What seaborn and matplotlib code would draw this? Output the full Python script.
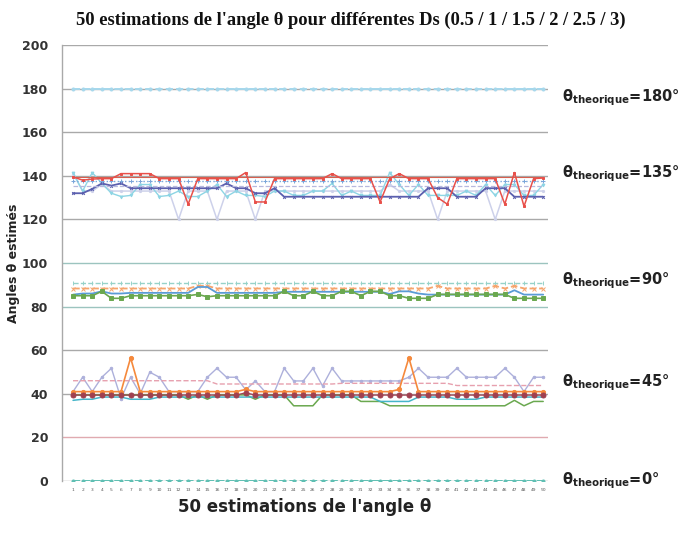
import numpy as np
import pandas as pd
import matplotlib
matplotlib.use("Agg")
import matplotlib.pyplot as plt
import seaborn as sns

# ---------------- data ----------------
idx = list(range(1, 51))

# theta = 180
s180 = [180] * 50

# theta = 135 group
red135 = [139.5, 138, 138.5, 138.7, 138.7, 141, 141, 141, 141, 138.7,
          138.7, 138.7, 127, 138.7, 138.7, 138.7, 138.7, 138.7, 141.5, 128,
          128, 138.7, 138.7, 138.7, 138.7, 138.7, 138.7, 141, 138.7, 138.7,
          138.7, 138.7, 128, 138.7, 141, 138.7, 138.7, 138.7, 130, 127,
          138.7, 138.7, 138.7, 138.7, 138.7, 127, 141.5, 126, 138.7, 139]
navy135 = [132, 132, 134, 136.5, 135.5, 136.5, 134.3, 134.3, 134.3, 134.3,
           134.3, 134.3, 134.3, 134.3, 134.3, 134.3, 136.5, 134.3, 134.3, 132,
           132, 134.3, 130.4, 130.4, 130.4, 130.4, 130.4, 130.4, 130.4, 130.4,
           130.4, 130.4, 130.4, 130.4, 130.4, 130.4, 130.4, 134.3, 134.3, 134.3,
           130.4, 130.4, 130.4, 134.3, 134.3, 134.3, 130.4, 130.4, 130.4, 130.4]
cyan135 = [141.5, 133, 141.5, 136.5, 132, 130.5, 131, 136, 136, 130.5,
           131, 133, 130.5, 130.5, 133, 136, 130.5, 133, 131, 131,
           130.5, 133, 133, 131, 131, 133, 133, 136.5, 131, 133,
           131, 131, 131, 141.5, 136, 131, 136, 131, 131, 131,
           131, 133, 131, 136, 131, 136, 136, 131, 131, 136]
lav135 = [141, 133, 133, 136, 133, 133, 133, 133, 133, 133,
          133, 120, 133, 133, 133, 120, 133, 133, 133, 120,
          133, 133, 133, 133, 133, 133, 133, 133, 133, 133,
          133, 133, 133, 136, 133, 133, 133, 133, 120, 133,
          133, 133, 133, 133, 120, 133, 133, 133, 133, 133]
red139 = [139.5] * 50
blue137 = [137.7] * 50
lilac135 = [135.2] * 50

# theta = 90 group
teal91 = [91] * 50
orange88 = [88.3] * 13 + [89.5, 89.5] + [88.3] * 23 + [89.5] + [88.3] * 5 + [89.5, 88.3, 89.5] + [88.3] * 3
blue86 = [85.5, 86, 86, 87, 86, 86, 86.3, 86.3, 86.3, 86.3,
          86.3, 86.3, 86.3, 89, 89, 86.3, 86.3, 86.3, 86.3, 86.3,
          86.3, 86.3, 86.8, 86.8, 86.8, 86.8, 86.8, 86.8, 86.8, 86.8,
          86.8, 86.8, 86.8, 85.8, 87, 87, 86, 85.5, 85.5, 85.5,
          85.5, 85.5, 85.5, 85.5, 85.5, 85.5, 87.5, 85.5, 85.5, 85.5]
green85 = [85, 85, 85, 87, 83.8, 83.8, 85, 85, 85, 85,
           85, 85, 85, 85.6, 84.5, 85, 85, 85, 85, 85,
           85, 85, 87, 85, 85, 87, 85, 85, 87, 87,
           85, 87, 87, 85, 85, 83.8, 83.8, 83.8, 85.6, 85.6,
           85.6, 85.6, 85.6, 85.6, 85.6, 85.6, 83.8, 83.8, 83.8, 83.8]

# theta = 45 group
lav45 = [41, 47.6, 41, 47.6, 51.7, 37.8, 47.6, 40, 49.9, 47.6,
         41, 41, 41, 41, 47.6, 51.7, 47.6, 47.6, 41.8, 45.9,
         41, 41, 51.7, 45.9, 45.9, 51.7, 43.6, 51.7, 45.9, 45.9,
         45.9, 45.9, 45.9, 45.9, 45.9, 47.6, 51.7, 47.6, 47.6, 47.6,
         51.7, 47.6, 47.6, 47.6, 47.6, 51.7, 47.6, 41, 47.6, 47.6]
pink45 = [46] * 15 + [44.5] * 13 + [44.8] * 12 + [43.8] * 10
orange41 = [41] * 6 + [56.5] + [41] * 11 + [42] + [41] * 15 + [42, 56.5] + [41] * 14
maroon39 = [39.4] * 18 + [40.5] + [39.4] * 31
green40 = [39.5] * 12 + [37.5, 39.5, 37.5] + [39.5] * 4 + [37.5] + [39.5] * 3 + \
          [34.5, 34.5, 34.5] + [39.5] * 4 + [36.5, 36.5, 36.5] + [34.5] * 13 + \
          [37, 34.5, 36.5, 36.5]
teal38 = [37, 37.5, 37.5, 38.5, 38.5, 38.5, 37.5, 37.5, 37.5, 38.5,
          38.5, 38.5, 38.5, 38.5, 38.5, 38.5, 38.5, 38.5, 38.5, 38.5,
          38.5, 38.5, 38.5, 38.5, 38.5, 38.5, 38.5, 38.5, 38.5, 38.5,
          38.5, 38.5, 36.5, 36.5, 36.5, 36.5, 38.5, 38.5, 38.5, 38.5,
          37.5, 37.5, 37.5, 38.5, 38.5, 38.5, 38.5, 38.5, 38.5, 38.5]

# theta = 0
s0 = [0] * 50

yticks = [0, 20, 40, 60, 80, 100, 120, 140, 160, 180, 200]
theo_labels = ["180°", "135°", "90°", "45°", "0°"]
theo_pos = [176, 141, 92, 45, 0]

title = "50 estimations de l'angle θ pour différentes Ds (0.5 / 1 / 1.5 / 2 / 2.5 / 3)"
xlabel = "50 estimations de l'angle θ"
ylabel = "Angles θ estimés"

# ---------------- plot ----------------
sns.set_theme(style="white")
plt.rcParams['font.family'] = ['DejaVu Sans']
plt.rcParams['mathtext.fontset'] = 'dejavusans'

fig = plt.figure(figsize=(6.86, 5.37), dpi=100)
ax = fig.add_axes([62 / 686, (537 - 481) / 537, (548 - 62) / 686, (481 - 45) / 537])

series = [
    (lav135, '#cdd1ea', '-', 'o', 1.1, 1.6),
    (cyan135, '#8dd5e4', '-', 'v', 1.0, 2.0),
    (navy135, '#5b5fae', '-', 'x', 1.3, 2.0),
    (lilac135, '#b7b8de', '--', '', 0.9, 0),
    (blue137, '#7aa6da', ':', '+', 1.0, 2.5),
    (red139, '#d7604f', '-', '', 0.8, 0),
    (red135, '#e8504a', '-', 's', 1.1, 1.8),
    (s180, '#a6d8ec', '--', 'o', 1.4, 2.2),
    (teal91, '#96d2c9', '--', '|', 1.0, 3.5),
    (orange88, '#f6a56d', '--', 'x', 1.3, 2.2),
    (blue86, '#5b9bd5', '-', '', 1.3, 0),
    (green85, '#6aa84f', '-', 's', 1.2, 2.2),
    (lav45, '#adb0db', '-', 'o', 1.0, 1.8),
    (pink45, '#e7a0ae', '--', '', 1.0, 0),
    (green40, '#6aa84f', '-', '', 1.1, 0),
    (teal38, '#45b5c9', '-', '', 1.1, 0),
    (orange41, '#f5893c', '-', 'o', 1.2, 3.0),
    (maroon39, '#a04050', '-', 'o', 0.9, 3.6),
    (s0, '#5fbfb3', '--', 'o', 1.4, 2.2),
]

for vals, col, ls, mk, lw, ms in series:
    sns.lineplot(x=idx, y=vals, ax=ax, color=col, linestyle=ls,
                 marker=mk if mk else None, markersize=ms, linewidth=lw,
                 markeredgecolor=col, markeredgewidth=0.7, zorder=3)

ax.set_xlim(-0.15, 50.5)
ax.set_ylim(0, 200)
ax.set_yticks(yticks)
ax.set_yticklabels([str(v) for v in yticks], fontsize=9, fontweight='bold', color='#333333')
ax.set_xticks(idx)
ax.set_xticklabels([str(i) for i in idx], fontsize=3.2, color='#555555')
ax.tick_params(axis='both', length=0)
ax.tick_params(axis='y', pad=10)
ax.tick_params(axis='x', pad=5)

ax.yaxis.grid(True, color='#a9a9a9', linewidth=1.0, zorder=0)
grid_cols = {80: '#9cc4bf', 100: '#9cc4bf', 20: '#e0aab0'}
for gl, v in zip(ax.get_ygridlines(), yticks):
    if v in grid_cols:
        gl.set_color(grid_cols[v])
ax.xaxis.grid(False)

for s in ['top', 'right', 'bottom']:
    ax.spines[s].set_visible(False)
ax.spines['left'].set_color('#a9a9a9')
ax.spines['left'].set_linewidth(1.0)

ax.set_xlabel(xlabel, fontsize=12, fontweight='bold', color='#222222', labelpad=4)
ax.set_ylabel(ylabel, fontsize=9, fontweight='bold', color='#222222', labelpad=1)

fig.text(0.512, 1 - 20 / 537, title, ha='center', va='center',
         fontsize=13.3, fontweight='bold', family='Liberation Serif', color='#111111')

for lab, pos in zip(theo_labels, theo_pos):
    ax.annotate(r'$\mathbf{\theta_{theorique}}$' + '=' + lab,
                xy=(1.0, pos), xycoords=('axes fraction', 'data'),
                xytext=(10, 0), textcoords='offset points',
                fontsize=10.5, fontweight='bold', color='#222222',
                va='center', ha='left', annotation_clip=False)

fig.savefig('out.png', dpi=100)
